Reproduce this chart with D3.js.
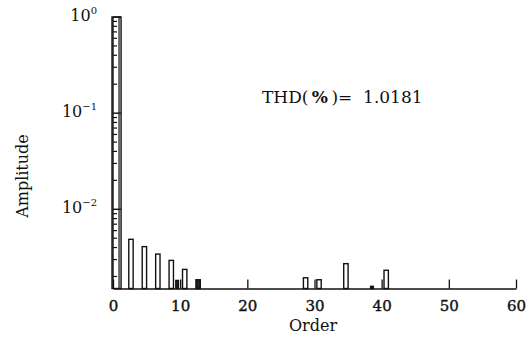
<!DOCTYPE html>
<html>
<head>
<script type="text/javascript" src="https://cdn.jsdelivr.net/npm/d3@7"></script>
<style>
  body { margin: 0; background: #fff; }
  svg { display: block; }
  text { font-family: "DejaVu Serif", "Liberation Serif", serif; fill: #111; }
</style>
</head>
<body>
<svg id="chart" width="532" height="342"></svg>
<script type="text/javascript">
// harmonic spectrum, order -> amplitude (relative to fundamental)
var orders = [1, 3, 5, 7, 9, 10, 11, 13, 29, 31, 35, 39, 41];
var amplitudes = [1, 0.00487, 0.00409, 0.00342, 0.00294, 0.00182, 0.00237, 0.00185, 0.00194, 0.00185, 0.00272, 0.00158, 0.00232];
var xTicks = [0, 10, 20, 30, 40, 50, 60];
var yTicks = [1, 0.1, 0.01];
var yTickLabels = ["0", "\u22121", "\u22122"];
var thdLabel = "THD(\u2009";
var thdValue = "\u2009)=  1.0181";

var svg = d3.select("#chart");

var x = d3.scaleLinear().domain([0, 60]).range([113, 516]);
var y = d3.scaleLog().domain([0.0015, 1]).range([288.5, 17]);

// bars (hollow)
var bars = svg.append("g").attr("id", "bars");
bars.selectAll("rect").data(orders).enter().append("rect")
  .attr("x", function(d){ return d === 1 ? x(-0.15) : x(d - 0.65); })
  .attr("width", function(d, i){
    if (d === 1) return x(1.2) - x(-0.15);
    if (d === 10 || d === 39) return x(0.4) - x(0);
    return x(0.65) - x(0);
  })
  .attr("y", function(d, i){ return y(amplitudes[i]); })
  .attr("height", function(d, i){ return y.range()[0] - y(amplitudes[i]); })
  .attr("fill", function(d, i){ return (d === 13 || d === 39 || d === 10) ? "#222" : "#fff"; })
  .attr("stroke", "#111")
  .attr("stroke-width", 1.4);

// inner line of the fundamental bar
bars.append("line")
  .attr("x1", x(0.9)).attr("x2", x(0.9))
  .attr("y1", y(1)).attr("y2", y.range()[0])
  .attr("stroke", "#111").attr("stroke-width", 1.2);

// y axis, ticks pointing inward (mostly behind the fundamental)
var minor = [];
[0.01, 0.1].forEach(function(dec){ for (var k = 2; k <= 9; k++) minor.push(dec * k); });
[0.002, 0.003, 0.004, 0.005, 0.006, 0.007, 0.008, 0.009].forEach(function(v){ minor.push(v); });
var yAxis = svg.append("g");
yAxis.append("line").attr("x1", x(0)).attr("x2", x(0))
  .attr("y1", y(1)).attr("y2", y.range()[0]).attr("stroke", "#111").attr("stroke-width", 1.4);
yAxis.selectAll(".minor").data(minor).enter().append("line").attr("class", "minor")
  .attr("x1", x(0)).attr("x2", x(0) + 4)
  .attr("y1", function(d){ return y(d); }).attr("y2", function(d){ return y(d); })
  .attr("stroke", "#111").attr("stroke-width", 1.2);
yAxis.selectAll(".major").data(yTicks).enter().append("line").attr("class", "major")
  .attr("x1", x(0)).attr("x2", x(0) + 8)
  .attr("y1", function(d){ return y(d); }).attr("y2", function(d){ return y(d); })
  .attr("stroke", "#111").attr("stroke-width", 1.4);

var yLab = yAxis.selectAll(".lab").data(yTicks).enter().append("text").attr("class", "lab")
  .attr("x", 97)
  .attr("y", function(d){ return y(d) + 4; })
  .attr("text-anchor", "end")
  .style("font-size", "16px");
yLab.append("tspan").text("10");
yLab.append("tspan").attr("dy", -7).style("font-size", "10px")
  .text(function(d, i){ return yTickLabels[i]; });

// x axis
var xAxis = d3.axisBottom(x).tickValues(xTicks).tickSize(-9).tickPadding(12).tickSizeOuter(0);
var gx = svg.append("g").attr("transform", "translate(0," + y.range()[0] + ")").call(xAxis);
gx.select(".domain").attr("stroke", "#111").attr("stroke-width", 1.6);
gx.selectAll(".tick line").attr("stroke", "#111").attr("stroke-width", 1.3);
gx.selectAll(".tick text").attr("fill", "#111")
  .style("font-family", "'DejaVu Serif', serif").style("font-size", "15px")
  .attr("stroke", "#111").attr("stroke-width", 0.4);

// titles
svg.append("text").attr("x", 313).attr("y", 331).attr("text-anchor", "middle")
  .style("font-size", "16px").text("Order");
svg.append("text").attr("transform", "translate(28,176) rotate(-90)").attr("text-anchor", "middle")
  .style("font-size", "16px").text("Amplitude");
var thd = svg.append("text").attr("x", 262).attr("y", 103).style("font-size", "17px")
  .style("white-space", "pre");
thd.append("tspan").text(thdLabel);
thd.append("tspan").style("font-weight", "bold").text("%");
thd.append("tspan").text(thdValue);
</script>
</body>
</html>
